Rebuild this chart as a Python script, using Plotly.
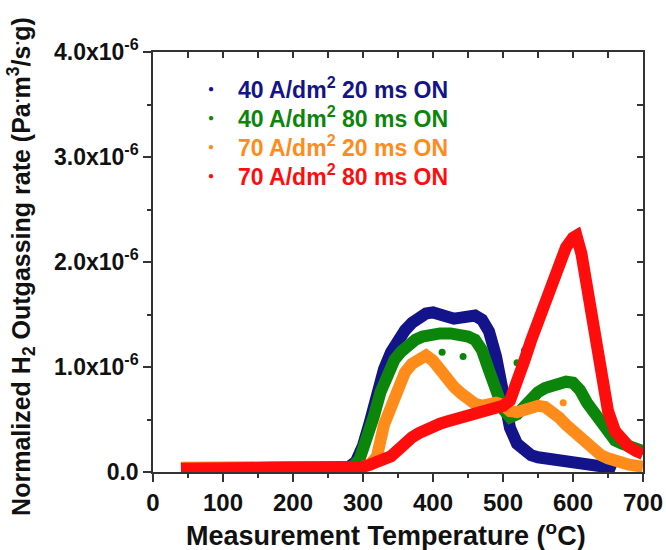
import plotly.graph_objects as go

# Measurement temperature (degC) and normalized H2 outgassing rate (x1e-6 Pa.m3/s.g)
t_40_20 = [40, 100, 200, 280, 290, 300, 310, 320, 330, 340, 350, 360, 370, 380, 390,
           400, 410, 420, 430, 440, 450, 460, 470, 480, 490, 500, 510, 520, 530, 540,
           550, 570, 590, 610, 630, 645, 660]
r_40_20 = [0.03, 0.04, 0.04, 0.05, 0.10, 0.25, 0.48, 0.75, 0.98, 1.14, 1.26, 1.35, 1.42, 1.47, 1.51,
           1.52, 1.50, 1.48, 1.46, 1.47, 1.49, 1.49, 1.45, 1.34, 1.10, 0.72, 0.42, 0.27, 0.20, 0.16,
           0.14, 0.12, 0.10, 0.10, 0.07, 0.05, 0.01]

t_40_80 = [40, 100, 200, 285, 295, 305, 315, 325, 335, 345, 355, 365, 375, 385, 395, 410, 425,
           440, 450, 460, 470, 480, 490, 500, 510, 520, 530, 540, 550, 560, 570, 580, 590, 600,
           610, 620, 630, 640, 650, 660, 670, 680, 690, 700]
r_40_80 = [0.03, 0.04, 0.04, 0.05, 0.12, 0.30, 0.52, 0.76, 0.95, 1.07, 1.15, 1.21, 1.26, 1.29, 1.31, 1.32, 1.32,
           1.31, 1.29, 1.26, 1.16, 0.97, 0.80, 0.60, 0.52, 0.55, 0.62, 0.70, 0.76, 0.80, 0.83, 0.85, 0.86, 0.85,
           0.78, 0.66, 0.56, 0.45, 0.36, 0.30, 0.27, 0.25, 0.23, 0.20]

t_70_20 = [40, 100, 200, 300, 310, 320, 330, 340, 350, 360, 370, 380, 390, 400, 410, 420, 430,
           440, 450, 460, 470, 480, 490, 500, 510, 520, 530, 540, 550, 560, 570, 580, 590, 600,
           610, 620, 630, 640, 650, 660, 680, 700]
r_70_20 = [0.04, 0.04, 0.04, 0.05, 0.07, 0.15, 0.45, 0.63, 0.80, 0.95, 1.03, 1.08, 1.11, 1.06, 0.97, 0.89, 0.81,
           0.75, 0.69, 0.65, 0.63, 0.64, 0.66, 0.64, 0.58, 0.57, 0.59, 0.61, 0.63, 0.62, 0.58, 0.52, 0.45, 0.39,
           0.33, 0.27, 0.21, 0.16, 0.13, 0.10, 0.07, 0.05]

t_70_80 = [40, 100, 200, 280, 300, 310, 320, 330, 340, 350, 360, 370, 380, 390, 400, 410, 420,
           430, 440, 450, 460, 470, 480, 490, 500, 510, 520, 530, 540, 550, 560, 570, 580, 590,
           600, 605, 612, 620, 630, 640, 650, 660, 670, 680, 690, 700]
r_70_80 = [0.03, 0.03, 0.03, 0.04, 0.05, 0.07, 0.09, 0.12, 0.15, 0.21, 0.28, 0.33, 0.37, 0.41, 0.43, 0.46, 0.48,
           0.50, 0.52, 0.53, 0.55, 0.57, 0.59, 0.61, 0.63, 0.68, 0.84, 1.05, 1.25, 1.43, 1.62, 1.82, 2.00, 2.14,
           2.23, 2.25, 2.08, 1.75, 1.33, 0.90, 0.58, 0.39, 0.29, 0.24, 0.20, 0.17]

# isolated readings lying off the main bands
stray_t_40_20 = [531]
stray_r_40_20 = [1.16]
stray_t_40_80 = [413, 443, 520]
stray_r_40_80 = [1.14, 1.10, 1.04]
stray_t_70_20 = [586]
stray_r_70_20 = [0.66]

series_names = ["40 A/dm<sup>2</sup> 20 ms ON", "40 A/dm<sup>2</sup> 80 ms ON",
                "70 A/dm<sup>2</sup> 20 ms ON", "70 A/dm<sup>2</sup> 80 ms ON"]
colors = ["#14148a", "#0b860b", "#ff8c1a", "#ff0d0d"]

x_ticks = [0, 100, 200, 300, 400, 500, 600, 700]
y_ticks = [0, 1e-6, 2e-6, 3e-6, 4e-6]
y_tick_text = ["0.0", "1.0x10<sup>-6</sup>", "2.0x10<sup>-6</sup>",
               "3.0x10<sup>-6</sup>", "4.0x10<sup>-6</sup>"]

UNIT = 1e-6
FONT = "Liberation Sans, Arial, sans-serif"

curves = [(t_40_20, r_40_20, stray_t_40_20, stray_r_40_20),
          (t_40_80, r_40_80, stray_t_40_80, stray_r_40_80),
          (t_70_20, r_70_20, stray_t_70_20, stray_r_70_20),
          (t_70_80, r_70_80, [], [])]

fig = go.Figure()
for (t, r, st, sr), color in zip(curves, colors):
    fig.add_trace(go.Scatter(x=t, y=[v * UNIT for v in r], mode="lines",
                             line=dict(color=color, width=12), showlegend=False,
                             hoverinfo="skip"))
    if st:
        fig.add_trace(go.Scatter(x=st, y=[v * UNIT for v in sr], mode="markers",
                                 marker=dict(color=color, size=7), showlegend=False,
                                 hoverinfo="skip"))

# mirrored frame with inward ticks on top and right
fig.add_trace(go.Scatter(x=[None], y=[None], xaxis="x2", yaxis="y2",
                         showlegend=False, hoverinfo="skip"))

axis_line = dict(showline=True, linecolor="#333333", linewidth=1.5, automargin=False,
                 showgrid=False, zeroline=False, tickcolor="#333333", tickwidth=1.5)

# key: one row per series, a small dot followed by the coloured label
key_rows = []
for i, (name, color) in enumerate(zip(series_names, colors)):
    row_y = 0.914 - i * 0.069
    key_rows.append(dict(text="\u25cf", xref="paper", yref="paper", x=0.119, y=row_y,
                         xanchor="center", yanchor="middle", showarrow=False,
                         font=dict(size=10, color=color, family=FONT)))
    key_rows.append(dict(text=name, xref="paper", yref="paper", x=0.17, y=row_y,
                         xanchor="left", yanchor="middle", showarrow=False,
                         font=dict(size=23, weight="bold", color=color, family=FONT)))

fig.update_layout(
    width=666, height=550, autosize=False,
    margin=dict(l=153, r=23, t=52, b=78),
    paper_bgcolor="white", plot_bgcolor="white",
    showlegend=False,
    font=dict(family=FONT, color="#111111"),
    xaxis=dict(range=[0, 700], tickvals=x_ticks, ticks="outside", ticklen=8,
               tickfont=dict(size=24, weight="bold", family=FONT),
               minor=dict(dtick=50, ticks="outside", ticklen=4, tickcolor="#333333", tickwidth=1.5),
               **axis_line),
    yaxis=dict(range=[0, 4e-6], tickvals=y_ticks, ticktext=y_tick_text, ticks="outside", ticklen=8,
               tickfont=dict(size=23, weight="bold", family=FONT),
               minor=dict(dtick=0.5e-6, ticks="outside", ticklen=4, tickcolor="#333333", tickwidth=1.5),
               **axis_line),
    xaxis2=dict(range=[0, 700], overlaying="x", side="top", dtick=50, ticks="inside", ticklen=6,
                showticklabels=False, **axis_line),
    yaxis2=dict(range=[0, 4e-6], overlaying="y", side="right", dtick=0.5e-6, ticks="inside", ticklen=6,
                showticklabels=False, **axis_line),
    annotations=key_rows + [
        dict(text="Measurement Temperature (<sup>o</sup>C)", xref="paper", yref="paper",
             x=0.476, y=-0.148, xanchor="center", yanchor="middle", showarrow=False,
             font=dict(size=27, weight="bold", family=FONT, color="#111111")),
        dict(text="Normalized H<sub>2</sub> Outgassing rate (Pa<sup>.</sup>m<sup>3</sup>/s<sup>.</sup>g)",
             xref="paper", yref="paper", x=-0.268, y=0.49, textangle=-90,
             xanchor="center", yanchor="middle", showarrow=False,
             font=dict(size=25, weight="bold", family=FONT, color="#111111")),
    ],
)

fig.write_html("out.html")
